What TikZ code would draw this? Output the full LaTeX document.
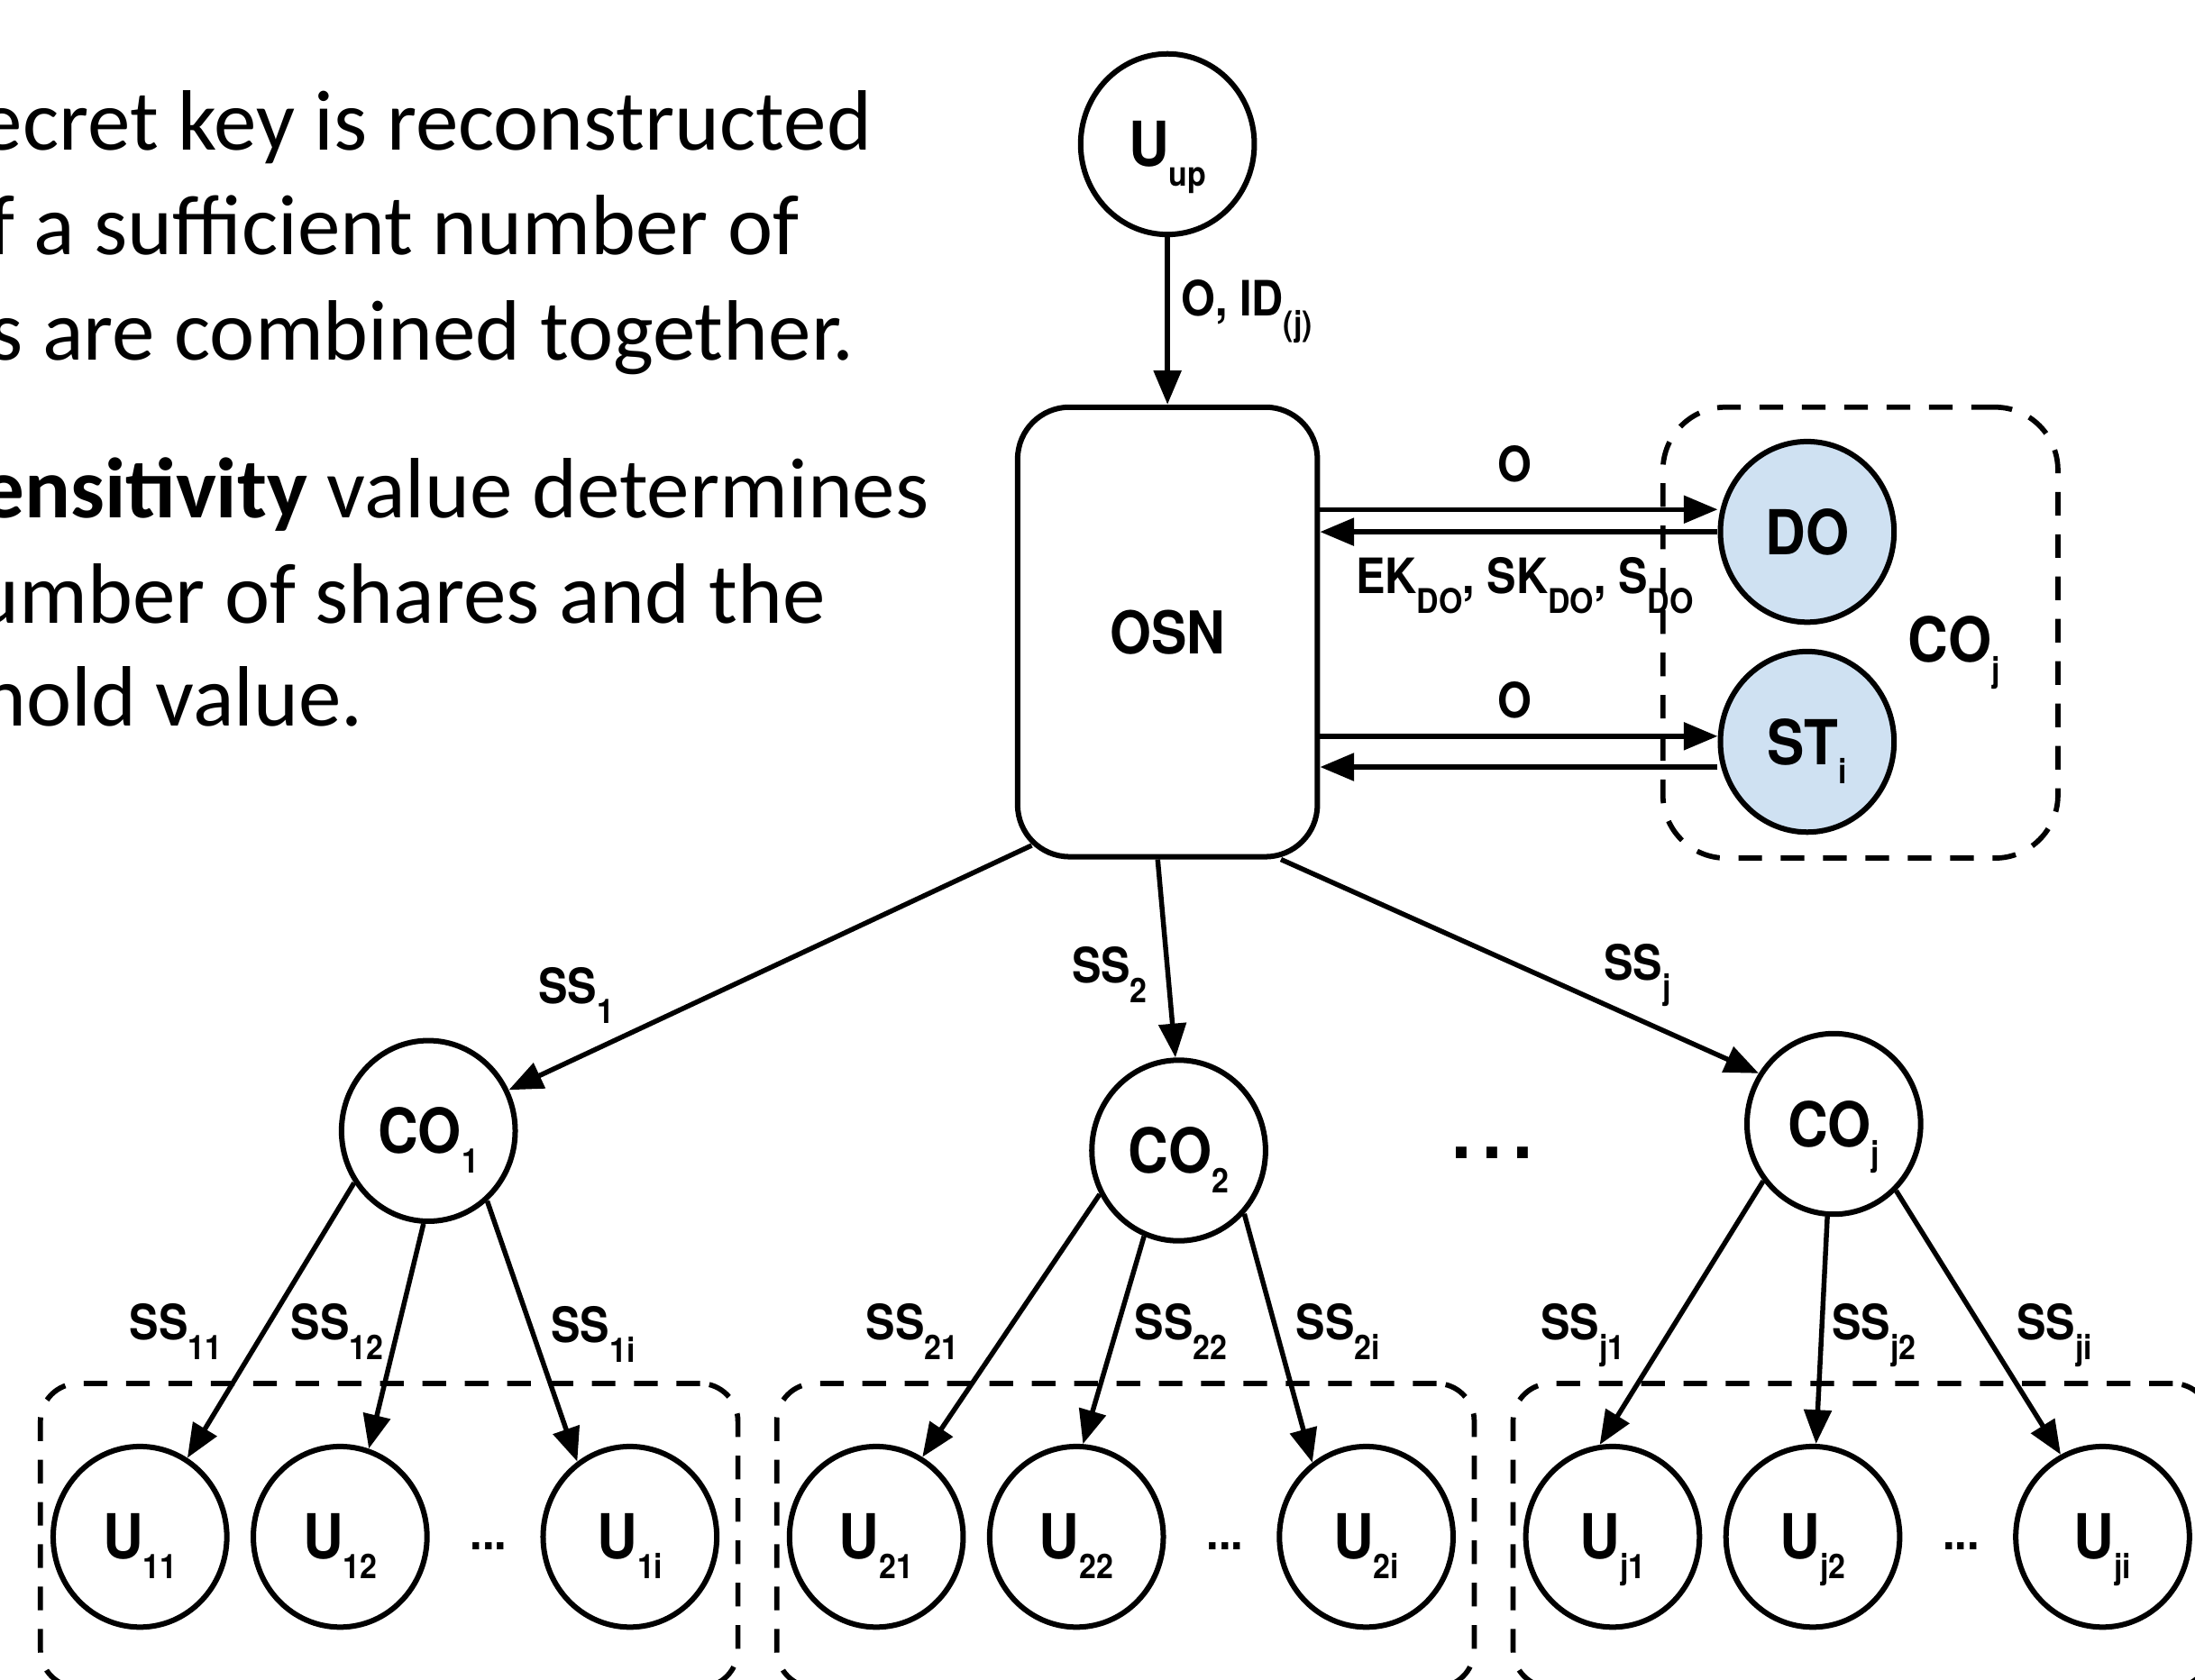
\documentclass[tikz,border=0pt]{standalone}
\usepackage{fontspec}
\setmainfont{Carlito}
\newfontfamily\labfont[FakeStretch=0.9]{TeX Gyre Heros}
\usetikzlibrary{arrows.meta,shapes.geometric,calc}
\definecolor{nodeblue}{RGB}{207,225,242}
\newcommand{\nodef}{\labfont\bfseries\fontsize{12.6pt}{14pt}\selectfont}
\newcommand{\edgef}{\labfont\bfseries\fontsize{9.9pt}{11pt}\selectfont}
\newcommand{\sbx}[1]{\raisebox{-4pt}[0pt][0pt]{\fontsize{6.9pt}{8pt}\selectfont #1}}
\begin{document}
\begin{tikzpicture}[x=0.01cm,y=-0.01cm,line join=round,
  ell/.style={draw,line width=1.1pt,ellipse,minimum width=1.24cm,minimum height=1.29cm,inner sep=0pt,font=\nodef},
  bluell/.style={ell,fill=nodeblue},
  arr/.style={-{Triangle[length=6.9pt,width=5.5pt]},line width=1pt},
  grp/.style={draw,line width=1.05pt,dash pattern=on 4.8pt off 3.8pt,rectangle,inner sep=0pt},
  lab/.style={font=\edgef,inner sep=0pt,anchor=base west},
  txt/.style={font=\fontsize{17.4pt}{21pt}\selectfont,anchor=base west,inner sep=0pt}]
\useasboundingbox (0,0) rectangle (1568,1200);
\clip (0,0) rectangle (1568,1200);

% left text
\node[txt] (t1) at (-15,107) {ecret key is reconstructed};
\node[txt] (t2) at (-9,182) {f a sufficient number of};
\node[txt] (t3) at (-8,257) {s are combined together.};
\node[txt] (t5) at (-14,370) {\textbf{ensitivity} value determines};
\node[txt] (t6) at (-19,445) {umber of shares and the};
\node[txt] (t7) at (-14,519) {hold value.};

% groups
\node[grp,rounded corners=0.45cm,minimum width=2.82cm,minimum height=3.22cm] (Gj) at (1329,452) {};
\node[grp,rounded corners=0.27cm,minimum width=4.98cm,minimum height=2.17cm] (G1) at (278,1097) {};
\node[grp,rounded corners=0.27cm,minimum width=4.98cm,minimum height=2.17cm] (G2) at (804,1097) {};
\node[grp,rounded corners=0.27cm,minimum width=4.98cm,minimum height=2.17cm] (G3) at (1330,1097) {};

% top nodes
\node[ell] (Uup) at (834,103) {U\sbx{up}};
\node[draw,line width=1.1pt,rectangle,rounded corners=0.37cm,minimum width=2.14cm,minimum height=3.21cm,font=\labfont\bfseries\fontsize{12pt}{14pt}\selectfont] (OSN) at (834,451.5) {OSN};
\node[bluell] (DO) at (1291,380) {DO};
\node[bluell] (ST) at (1291,530) {ST\sbx{i}};
\node[font=\nodef,inner sep=0pt] (COjlab) at (1396,457) {CO\sbx{j}};

% CO nodes
\node[ell] (CO1) at (306,808) {CO\sbx{1}};
\node[ell] (CO2) at (842,822) {CO\sbx{2}};
\node[ell] (COj) at (1310,803) {CO\sbx{j}};
\node[font=\labfont\bfseries\fontsize{16pt}{16pt}\selectfont,inner sep=0pt] (dotsC) at (1066,824) {.\hspace{2.3pt}.\hspace{2.3pt}.};

% U nodes
\node[ell] (U11) at (100,1098) {U\sbx{11}};
\node[ell] (U12) at (243,1098) {U\sbx{12}};
\node[font=\edgef,inner sep=0pt] (d1) at (349,1105) {...};
\node[ell] (U1i) at (450,1098) {U\sbx{1i}};
\node[ell] (U21) at (626,1098) {U\sbx{21}};
\node[ell] (U22) at (769,1098) {U\sbx{22}};
\node[font=\edgef,inner sep=0pt] (d2) at (875,1105) {...};
\node[ell] (U2i) at (976,1098) {U\sbx{2i}};
\node[ell] (Uj1) at (1152,1098) {U\sbx{j1}};
\node[ell] (Uj2) at (1295,1098) {U\sbx{j2}};
\node[font=\edgef,inner sep=0pt] (d3) at (1401,1105) {...};
\node[ell] (Uji) at (1502,1098) {U\sbx{ji}};

% connectors top
\draw[arr] (Uup.south) -- (OSN.north);
\draw[arr] ([yshift=0.16cm]OSN.east |- DO.west) -- ([yshift=0.16cm]DO.west);
\draw[arr] (DO.west) -- (DO.west -| OSN.east);
\draw[arr] ([yshift=0.04cm]OSN.east |- ST.west) -- ([yshift=0.04cm]ST.west);
\draw[arr] ([yshift=-0.18cm]ST.west) -- ([yshift=-0.18cm]OSN.east |- ST.west);

\draw[arr] ([shift={(12,-10)}]OSN.south west) -- (CO1.27);
\draw[arr] ([xshift=-0.07cm]OSN.south) -- (CO2.92);
\draw[arr] ([xshift=0.81cm]OSN.south) -- (COj.146);

\draw[arr] (CO1.215) -- (U11.59);
\draw[arr] (CO1.267) -- (U12.72);
\draw[arr] (CO1.310) -- (U1i.125);
\draw[arr] (CO2.209) -- (U21.60);
\draw[arr] (CO2.248) -- (U22.86);
\draw[arr] (CO2.316) -- (U2i.126);
\draw[arr] (COj.219) -- (Uj1.98);
\draw[arr] (COj.266) -- (Uj2.88);
\draw[arr] (COj.313) -- (Uji.117);

% connector labels
\node[lab] (lOID) at (843,226) {O, ID\sbx{(j)}};
\node[lab,anchor=base] (lO1) at (1082,344) {O};
\node[lab] (lEK) at (968,424) {EK\sbx{DO}, SK\sbx{DO}, S\sbx{DO}};
\node[lab,anchor=base] (lO2) at (1082,513) {O};
\node[lab] (lSS1) at (384,717) {SS\sbx{1}};
\node[lab] (lSS2) at (765,702) {SS\sbx{2}};
\node[lab] (lSSj) at (1145,700) {SS\sbx{j}};
\node[lab] (lSS11) at (92,957) {SS\sbx{11}};
\node[lab] (lSS12) at (207,957) {SS\sbx{12}};
\node[lab] (lSS1i) at (393,959) {SS\sbx{1i}};
\node[lab] (lSS21) at (618,957) {SS\sbx{21}};
\node[lab] (lSS22) at (810,957) {SS\sbx{22}};
\node[lab] (lSS2i) at (925,957) {SS\sbx{2i}};
\node[lab] (lSSj1) at (1100,957) {SS\sbx{j1}};
\node[lab] (lSSj2) at (1308,957) {SS\sbx{j2}};
\node[lab] (lSSji) at (1440,957) {SS\sbx{ji}};
\end{tikzpicture}
\end{document}
